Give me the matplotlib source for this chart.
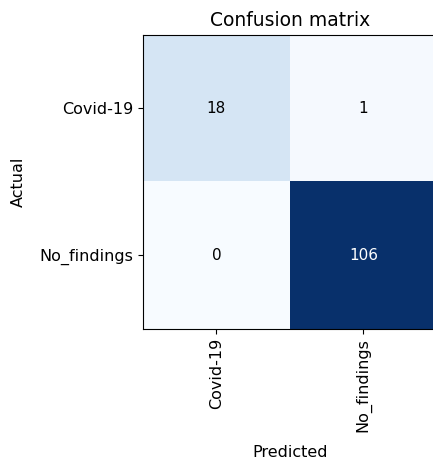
import numpy as np
import matplotlib
matplotlib.use("Agg")
import matplotlib.pyplot as plt

classes = ["Covid-19", "No_findings"]
cm = np.array([[18, 1],
               [0, 106]])

fig = plt.figure(figsize=(4.33, 4.66), dpi=100)
ax = fig.add_axes([0.330, 0.292, 0.679, 0.637])
ax.imshow(cm, interpolation="nearest", cmap="Blues")
ax.set_title("Confusion matrix", fontsize=13.5)

ticks = np.arange(len(classes))
ax.set_xticks(ticks)
ax.set_xticklabels(classes, rotation=90, fontsize=11.5)
ax.set_yticks(ticks)
ax.set_yticklabels(classes, rotation=0, fontsize=11.5)

thresh = cm.max() / 2.0
for i in range(cm.shape[0]):
    for j in range(cm.shape[1]):
        ax.text(j, i, f"{cm[i, j]}", ha="center", va="center", fontsize=11,
                color="white" if cm[i, j] > thresh else "black")

ax.set_ylabel("Actual", fontsize=11.5, labelpad=10)
ax.set_xlabel("Predicted", fontsize=11.5, labelpad=9)
ax.grid(False)

fig.savefig("out.png", dpi=100)
